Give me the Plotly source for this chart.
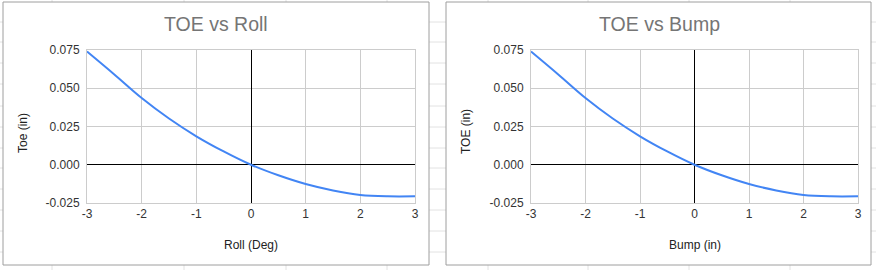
import plotly.graph_objects as go

# Data
x_vals = [-3, -2.5, -2, -1.5, -1, -0.5, 0, 0.5, 1, 1.5, 2, 2.5, 3]
toe_roll = [0.0740, 0.0590, 0.0436, 0.0302, 0.0186, 0.0087, 0.0, -0.0069, -0.0126, -0.0168, -0.0197, -0.0206, -0.0206]
toe_bump = [0.0740, 0.0590, 0.0436, 0.0302, 0.0186, 0.0087, 0.0, -0.0069, -0.0126, -0.0168, -0.0197, -0.0206, -0.0206]
x_ticks = [-3, -2, -1, 0, 1, 2, 3]
x_tick_labels = ["-3", "-2", "-1", "0", "1", "2", "3"]
y_ticks = [-0.025, 0.0, 0.025, 0.05, 0.075]
y_tick_labels = ["-0.025", "0.000", "0.025", "0.050", "0.075"]

W, H = 876, 270
def px(x): return x / W
def py(y): return 1 - y / H

fig = go.Figure()
fig.add_trace(go.Scatter(x=x_vals, y=toe_roll, mode="lines", line=dict(color="#4285F4", width=2, shape="spline"),
                         xaxis="x", yaxis="y", showlegend=False))
fig.add_trace(go.Scatter(x=x_vals, y=toe_bump, mode="lines", line=dict(color="#4285F4", width=2, shape="spline"),
                         xaxis="x2", yaxis="y2", showlegend=False))

font_tick = dict(family="Liberation Sans, Arial, sans-serif", size=12, color="#333333")
grid = "#cccccc"

def xaxis(dom, anchor):
    return dict(domain=dom, anchor=anchor, range=[-3, 3], tickvals=x_ticks, ticktext=x_tick_labels,
                showgrid=True, gridcolor=grid,
                zeroline=True, zerolinecolor="#000000", zerolinewidth=1, tickfont=font_tick,
                showline=True, linecolor=grid, mirror=True, ticks="", fixedrange=True, automargin=False)

def yaxis(dom, anchor):
    return dict(domain=dom, anchor=anchor, range=[-0.025, 0.075], tickvals=y_ticks, ticktext=y_tick_labels,
                showgrid=True, gridcolor=grid, zeroline=True, zerolinecolor="#000000", zerolinewidth=1,
                tickfont=font_tick, showline=True, linecolor=grid, mirror=True, ticks="",
                ticklabelstandoff=4, fixedrange=True, automargin=False)

ydom = [py(203), py(50)]
fig.update_layout(
    width=W, height=H, margin=dict(l=0, r=0, t=0, b=0, autoexpand=False),
    paper_bgcolor="#ffffff", plot_bgcolor="rgba(0,0,0,0)",
    xaxis=xaxis([px(87), px(415)], "y"),
    yaxis=yaxis(ydom, "x"),
    xaxis2=xaxis([px(531), px(858)], "y2"),
    yaxis2=yaxis(ydom, "x2"),
)

shapes = []
# faint spreadsheet cell grid behind the chart panels
for yy in [22, 42, 63, 84, 106, 127, 148, 168, 189, 210, 231, 252]:
    shapes.append(dict(type="line", xref="paper", yref="paper", x0=0, x1=1, y0=py(yy), y1=py(yy),
                       line=dict(color="#e2e2e2", width=1), layer="below"))
for xx in [52, 184, 286, 387, 488, 588, 689, 790]:
    shapes.append(dict(type="line", xref="paper", yref="paper", x0=px(xx), x1=px(xx), y0=0, y1=1,
                       line=dict(color="#e2e2e2", width=1), layer="below"))
# chart panels
for x0, x1 in [(3, 429), (446, 871)]:
    shapes.append(dict(type="rect", xref="paper", yref="paper", x0=px(x0), x1=px(x1), y0=py(265), y1=py(2),
                       fillcolor="#ffffff", line=dict(color="#9e9e9e", width=1), layer="below"))
fig.update_layout(shapes=shapes)

title_font = dict(family="Liberation Sans, Arial, sans-serif", size=19.5, color="#757575")
axis_font = dict(family="Liberation Sans, Arial, sans-serif", size=12, color="#222222")
ann = [
    dict(text="TOE vs Roll", x=px(216), y=py(24), font=title_font),
    dict(text="TOE vs Bump", x=px(659), y=py(24), font=title_font),
    dict(text="Roll (Deg)", x=px(251), y=py(245), font=axis_font),
    dict(text="Bump (in)", x=px(694.5), y=py(245), font=axis_font),
    dict(text="Toe (in)", x=px(23), y=py(133), font=axis_font, textangle=-90),
    dict(text="TOE (in)", x=px(466), y=py(132), font=axis_font, textangle=-90),
]
for a in ann:
    a.update(xref="paper", yref="paper", showarrow=False, xanchor="center", yanchor="middle")
fig.update_layout(annotations=ann)

fig.write_html("out.html")
